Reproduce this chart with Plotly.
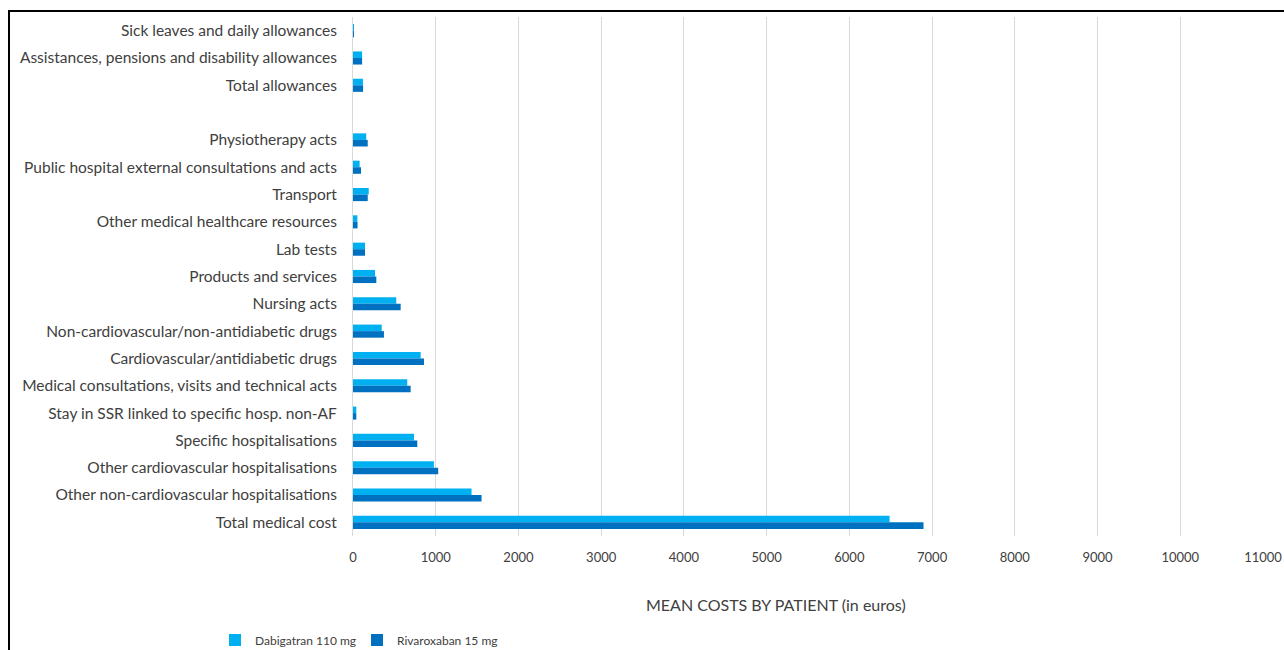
import plotly.graph_objects as go

# Cost categories, top to bottom (" " row is a spacer between groups)
categories = [
    "Sick leaves and daily allowances",
    "Assistances, pensions and disability allowances",
    "Total allowances",
    " ",
    "Physiotherapy acts",
    "Public hospital external consultations and acts",
    "Transport",
    "Other medical healthcare resources",
    "Lab tests",
    "Products and services",
    "Nursing acts",
    "Non-cardiovascular/non-antidiabetic drugs",
    "Cardiovascular/antidiabetic drugs",
    "Medical consultations, visits and technical acts",
    "Stay in SSR linked to specific hosp. non-AF",
    "Specific hospitalisations",
    "Other cardiovascular hospitalisations",
    "Other non-cardiovascular hospitalisations",
    "Total medical cost",
]

# Mean cost per patient (euros)
dabigatran_110 = [12, 110, 120, None, 160, 80, 190, 53, 145, 266, 523, 347, 818,
                  656, 40, 737, 978, 1433, 6486]
rivaroxaban_15 = [10, 110, 122, None, 178, 97, 178, 55, 145, 282, 576, 374, 858,
                  697, 40, 777, 1030, 1554, 6896]

x_ticks = list(range(0, 11001, 1000))

FONT = "Lato"
TEXT = "#404040"

W, H = 1284, 650
ML, MR, MT, MB = 353, 21, 17, 114
PW, PH = W - ML - MR, H - MT - MB


def px_x(p):
    # pixel column -> paper x
    return (p - ML) / PW


def px_y(p):
    # pixel row -> paper y
    return (H - MB - p) / PH


fig = go.Figure()
fig.add_trace(go.Bar(
    y=categories, x=dabigatran_110, orientation="h",
    name="Dabigatran 110 mg", marker=dict(color="#00B0F0", line=dict(width=0)),
))
fig.add_trace(go.Bar(
    y=categories, x=rivaroxaban_15, orientation="h",
    name="Rivaroxaban 15 mg", marker=dict(color="#0070C0", line=dict(width=0)),
))

fig.update_layout(
    width=W, height=H, autosize=False,
    margin=dict(l=ML, r=MR, t=MT, b=MB, pad=0, autoexpand=False),
    paper_bgcolor="white", plot_bgcolor="white",
    barmode="group", bargap=0.52, bargroupgap=0,
    font=dict(family=FONT, size=15, color=TEXT),
    showlegend=True,
    legend=dict(
        orientation="h", xref="container", yref="container",
        x=215 / W, y=1 - 640 / H, xanchor="left", yanchor="middle",
        font=dict(family=FONT, size=12, color=TEXT),
        itemwidth=30, entrywidth=97, entrywidthmode="pixels",
        traceorder="normal", tracegroupgap=0, borderwidth=0,
    ),
    xaxis=dict(
        range=[0, 11000], tickvals=x_ticks, ticktext=[str(v) for v in x_ticks],
        showgrid=True, gridcolor="#D9D9D9", gridwidth=1,
        zeroline=False, showline=False, automargin=False,
        ticks="", tickfont=dict(family=FONT, size=13, color=TEXT),
        ticklabelstandoff=12,
    ),
    yaxis=dict(
        type="category", categoryorder="array", categoryarray=categories,
        autorange="reversed", showgrid=False, zeroline=False, automargin=False,
        showline=True, linecolor="#D9D9D9", linewidth=1,
        ticks="", ticklabelstandoff=12,
        tickfont=dict(family=FONT, size=15.5, color=TEXT),
    ),
    annotations=[dict(
        text="MEAN COSTS BY PATIENT (in euros)", xref="paper", yref="paper",
        x=px_x(776), y=px_y(604), xanchor="center", yanchor="middle", showarrow=False,
        font=dict(family=FONT, size=16, color=TEXT),
    )],
    shapes=[
        # frame: left and top edges
        dict(type="line", xref="paper", yref="paper",
             x0=px_x(9), x1=px_x(9), y0=px_y(H), y1=px_y(10),
             line=dict(color="black", width=2), layer="above"),
        dict(type="line", xref="paper", yref="paper",
             x0=px_x(8), x1=px_x(W), y0=px_y(11), y1=px_y(11),
             line=dict(color="black", width=2), layer="above"),
    ],
)

fig.write_html("out.html")
